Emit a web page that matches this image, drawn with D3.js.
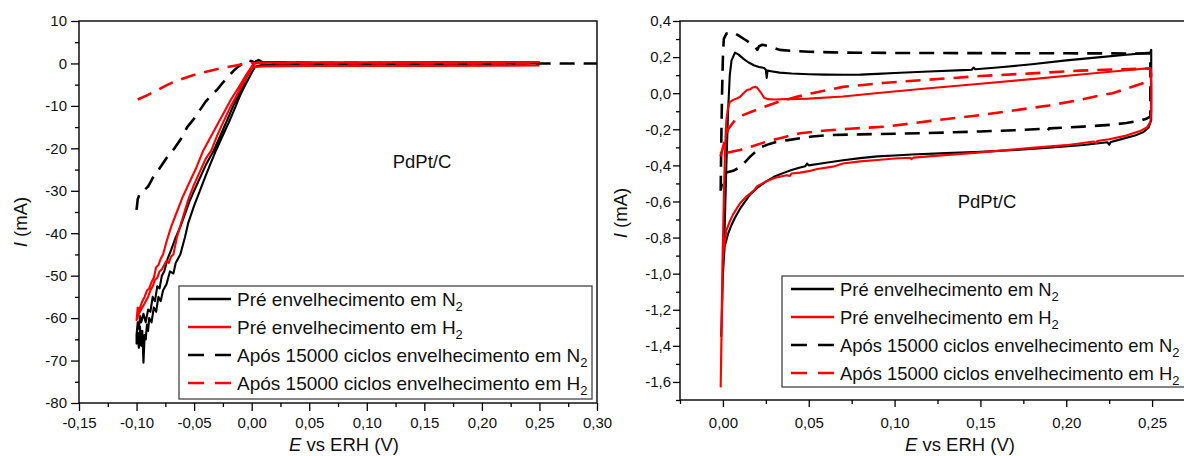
<!DOCTYPE html>
<html><head><meta charset="utf-8">
<script src="https://cdn.jsdelivr.net/npm/d3@7"></script>
<style>body{margin:0;background:#fff}svg{display:block;font-family:"Liberation Sans",Arial,sans-serif}</style>
</head><body><svg id="c" width="1184" height="456"></svg>
<script>
// ---------- labels ----------
const legendLabels = ["Pré envelhecimento em N","Pré envelhecimento em H","Após 15000 ciclos envelhecimento em N","Após 15000 ciclos envelhecimento em H"];
const legendSubs = ["2","2","2","2"];
const seriesColors = ["#000000","#ff0000","#000000","#ff0000"];
const seriesDashed = [false,false,true,true];
const sampleLabel = "PdPt/C";
const xTitle = "vs ERH (V)";
const yTitleUnit = " (mA)";

// ---------- left panel ticks ----------
const leftXTicks = [-0.15,-0.10,-0.05,0.00,0.05,0.10,0.15,0.20,0.25,0.30];
const leftYTicks = [-80,-70,-60,-50,-40,-30,-20,-10,0,10];
// ---------- right panel ticks ----------
const rightXTicks = [0.00,0.05,0.10,0.15,0.20,0.25];
const rightYTicks = [-1.6,-1.4,-1.2,-1.0,-0.8,-0.6,-0.4,-0.2,0.0,0.2,0.4];

// ---------- left panel data (E [V], I [mA]) ----------
const leftPreN2 = [
[0.25,0.0],[0.2,-0.1],[0.1,-0.2],[0.03,-0.3],[0.008,-0.4],[0.003,-0.8],
[0,-2.2],[-0.005,-4.8],[-0.01,-7.5],[-0.015,-10.8],[-0.02,-14],[-0.026,-17.5],[-0.031,-20.5],[-0.036,-23.8],[-0.04,-26.5],[-0.045,-30],[-0.05,-33.5],[-0.055,-37.5],[-0.058,-41],[-0.062,-45],[-0.066,-47],[-0.068,-49.5],[-0.071,-49],[-0.074,-52],[-0.077,-53.5],[-0.079,-56],[-0.081,-55],[-0.083,-58.5],[-0.085,-57.5],[-0.087,-61],[-0.089,-60],[-0.09,-63],[-0.091,-61.5],[-0.092,-65],[-0.093,-64],[-0.094,-70.5],[-0.095,-63],[-0.096,-66.5],[-0.097,-62],[-0.098,-67],[-0.099,-63.5],[-0.1,-66],
[-0.1,-64],[-0.099,-61],[-0.098,-62.5],[-0.097,-59.5],[-0.096,-61],[-0.094,-59],[-0.092,-61],[-0.09,-58],[-0.088,-58.5],[-0.086,-55],[-0.084,-56],[-0.082,-52.5],[-0.08,-53],[-0.078,-50],[-0.076,-49],[-0.073,-46],[-0.07,-44],[-0.066,-41],[-0.062,-38.5],[-0.058,-35.5],[-0.054,-32.5],[-0.05,-30],[-0.045,-27],[-0.04,-24],[-0.033,-20.5],[-0.028,-17.5],[-0.022,-13.8],[-0.016,-10],[-0.01,-6.5],[-0.005,-3.5],[0,-1],[0.004,0.6],[0.008,0.3],[0.05,0.2],[0.1,0.2],[0.15,0.25],[0.2,0.25],[0.25,0.3]
];
const leftPreH2 = [
[0.25,-0.5],[0.15,-0.6],[0.05,-0.6],[0.01,-0.7],[0.003,-0.8],[0,-1.2],[-0.005,-3.5],[-0.011,-6.5],[-0.018,-10],[-0.025,-14],[-0.03,-17],[-0.035,-20.5],[-0.04,-22.5],[-0.045,-25.5],[-0.05,-28.5],[-0.055,-32],[-0.06,-36.5],[-0.065,-41],[-0.068,-45],[-0.070,-45.5],[-0.072,-47],[-0.074,-46.5],[-0.076,-47.5],[-0.078,-48.5],[-0.08,-49],[-0.082,-50.5],[-0.084,-51],[-0.086,-52.5],[-0.088,-53.5],[-0.09,-55],[-0.092,-56],[-0.094,-57],[-0.096,-58],[-0.098,-59],[-0.1,-60.5],
[-0.099,-57.5],[-0.098,-58.5],[-0.097,-57.5],[-0.095,-56],[-0.093,-55],[-0.091,-53.5],[-0.089,-53],[-0.087,-51.5],[-0.085,-50.5],[-0.083,-48],[-0.081,-47.5],[-0.079,-46],[-0.077,-45],[-0.074,-42],[-0.07,-38.5],[-0.065,-35],[-0.06,-31.5],[-0.054,-28],[-0.048,-24.5],[-0.042,-20.5],[-0.036,-17.5],[-0.03,-14.5],[-0.025,-12],[-0.018,-8.5],[-0.011,-5.5],[-0.005,-2.8],[0.001,-0.3],[0.005,0.2],[0.05,0.2],[0.15,0.2],[0.25,0.3]
];
const leftPostN2 = [
[-0.1,-34.5],[-0.099,-32],[-0.097,-30.5],[-0.094,-30],[-0.09,-29],[-0.086,-27],[-0.082,-25.5],[-0.077,-23.5],[-0.072,-21.5],[-0.067,-20],[-0.062,-18],[-0.056,-15],[-0.05,-13],[-0.045,-11],[-0.04,-9],[-0.035,-7.5],[-0.03,-6.2],[-0.025,-4.5],[-0.02,-3],[-0.016,-1.8],[-0.012,-0.8],[-0.008,0],[-0.004,0.8],[0.0,0.5],[0.003,0.2],[0.006,0.8],[0.01,0.2],[0.05,0.1],[0.1,0.1],[0.2,0.0],[0.3,0.0]
];
const leftPostH2 = [
[-0.099,-8.5],[-0.09,-7.4],[-0.082,-6.3],[-0.075,-5.3],[-0.068,-4.4],[-0.06,-3.6],[-0.051,-2.8],[-0.042,-2.1],[-0.034,-1.6],[-0.025,-1.0],[-0.016,-0.6],[-0.008,-0.2],[0.0,0.1],[0.05,0.0],[0.1,0.0],[0.25,0.0]
];

// ---------- right panel data (E [V], I [mA]) ----------
const rightPreN2 = [
[-0.001,-1.35],[0.0,-1.0],[0.001,-0.75],[0.002,-0.4],[0.003,-0.1],[0.004,0.1],[0.005,0.18],[0.007,0.225],[0.009,0.215],[0.012,0.19],[0.015,0.17],[0.018,0.155],[0.021,0.145],[0.024,0.14],[0.025,0.13],[0.0255,0.085],[0.026,0.125],[0.028,0.122],[0.033,0.114],[0.04,0.109],[0.05,0.105],[0.06,0.103],[0.07,0.102],[0.08,0.103],[0.09,0.107],[0.1,0.112],[0.12,0.12],[0.14,0.128],[0.145,0.13],[0.146,0.142],[0.147,0.133],[0.16,0.142],[0.18,0.16],[0.2,0.182],[0.22,0.2],[0.235,0.213],[0.249,0.225],[0.2495,0.24],[0.2495,0.05],[0.2495,-0.15],[0.248,-0.19],[0.245,-0.215],[0.24,-0.235],[0.23,-0.26],[0.226,-0.27],[0.225,-0.285],[0.224,-0.272],[0.21,-0.287],[0.19,-0.302],[0.17,-0.315],[0.15,-0.325],[0.13,-0.332],[0.11,-0.34],[0.1,-0.345],[0.09,-0.35],[0.08,-0.36],[0.07,-0.372],[0.06,-0.385],[0.05,-0.4],[0.049,-0.39],[0.048,-0.405],[0.045,-0.412],[0.04,-0.425],[0.035,-0.443],[0.03,-0.462],[0.025,-0.49],[0.02,-0.525],[0.016,-0.56],[0.013,-0.6],[0.01,-0.64],[0.007,-0.69],[0.005,-0.73],[0.003,-0.78],[0.001,-0.85],[0.0,-1.0],[-0.001,-1.35]
];
const rightPreH2 = [
[-0.0013,-1.63],[-0.0008,-1.3],[-0.0003,-0.95],[0.0005,-0.6],[0.001,-0.4],[0.0015,-0.25],[0.002,-0.15],[0.003,-0.08],[0.004,-0.05],[0.006,-0.037],[0.008,-0.03],[0.01,-0.02],[0.012,0.0],[0.014,0.018],[0.016,0.022],[0.017,0.03],[0.019,0.035],[0.02,0.03],[0.022,0.005],[0.024,-0.025],[0.026,-0.033],[0.03,-0.035],[0.037,-0.033],[0.05,-0.03],[0.07,-0.018],[0.095,0.005],[0.12,0.027],[0.15,0.052],[0.18,0.078],[0.21,0.105],[0.235,0.127],[0.249,0.139],[0.2495,0.05],[0.2495,-0.1],[0.249,-0.16],[0.247,-0.19],[0.243,-0.21],[0.235,-0.235],[0.225,-0.255],[0.218,-0.265],[0.2175,-0.277],[0.216,-0.268],[0.2,-0.288],[0.18,-0.303],[0.15,-0.328],[0.12,-0.35],[0.111,-0.357],[0.11,-0.365],[0.109,-0.358],[0.1,-0.362],[0.09,-0.37],[0.08,-0.378],[0.07,-0.39],[0.064,-0.407],[0.055,-0.42],[0.05,-0.432],[0.045,-0.44],[0.04,-0.445],[0.039,-0.458],[0.037,-0.455],[0.03,-0.47],[0.025,-0.49],[0.02,-0.515],[0.018,-0.54],[0.014,-0.57],[0.01,-0.61],[0.006,-0.67],[0.004,-0.71],[0.002,-0.76],[0.0,-0.9],[-0.0013,-1.63]
];
const rightPostN2 = [
[-0.0013,-0.54],[-0.001,-0.3],[-0.0005,0.0],[0.0,0.2],[0.0005,0.3],[0.002,0.33],[0.006,0.337],[0.009,0.32],[0.013,0.296],[0.017,0.27],[0.019,0.255],[0.02,0.24],[0.021,0.26],[0.023,0.268],[0.026,0.262],[0.03,0.25],[0.033,0.24],[0.04,0.235],[0.05,0.23],[0.064,0.226],[0.08,0.224],[0.1,0.223],[0.15,0.222],[0.2,0.221],[0.24,0.22],[0.249,0.22],[0.249,0.0],[0.249,-0.13],[0.247,-0.14],[0.244,-0.15],[0.235,-0.165],[0.226,-0.175],[0.21,-0.185],[0.19,-0.195],[0.189,-0.21],[0.185,-0.198],[0.17,-0.205],[0.15,-0.212],[0.13,-0.218],[0.1,-0.225],[0.08,-0.228],[0.06,-0.233],[0.052,-0.24],[0.045,-0.25],[0.038,-0.26],[0.031,-0.27],[0.026,-0.285],[0.022,-0.3],[0.019,-0.325],[0.016,-0.35],[0.013,-0.38],[0.01,-0.41],[0.006,-0.43],[0.002,-0.44],[0.0,-0.47],[-0.0013,-0.54]
];
const rightPostH2 = [
[-0.0013,-0.35],[0.0,-0.3],[0.003,-0.2],[0.007,-0.15],[0.012,-0.12],[0.022,-0.083],[0.033,-0.046],[0.043,-0.02],[0.052,0.0],[0.07,0.035],[0.095,0.058],[0.12,0.075],[0.15,0.095],[0.18,0.11],[0.208,0.125],[0.23,0.132],[0.249,0.137],[0.2495,0.1],[0.249,0.075],[0.245,0.056],[0.235,0.025],[0.227,0.0],[0.22,-0.012],[0.208,-0.037],[0.19,-0.068],[0.17,-0.095],[0.15,-0.121],[0.12,-0.155],[0.095,-0.185],[0.074,-0.197],[0.06,-0.207],[0.045,-0.222],[0.035,-0.245],[0.025,-0.27],[0.015,-0.3],[0.01,-0.315],[0.005,-0.325],[0.0,-0.333],[-0.0013,-0.35]
];

// ---------- drawing ----------
const svg = d3.select("#c");
const loc = d3.formatLocale({decimal:",",thousands:".",grouping:[3],currency:["",""],minus:"-"});
const FONT_TICK = 15, FONT_TITLE = 18.5;

function mids(arr, lo, hi){
  const out=[];
  for(let i=0;i<arr.length-1;i++) out.push((arr[i]+arr[i+1])/2);
  const step = arr[1]-arr[0];
  if(lo!==undefined && arr[0]-step/2>=lo-1e-9) out.unshift(arr[0]-step/2);
  if(hi!==undefined && arr[arr.length-1]+step/2<=hi+1e-9) out.push(arr[arr.length-1]+step/2);
  return out;
}

function panel(cfg){
  const x = d3.scaleLinear().domain(cfg.xd).range(cfg.xr);
  const y = d3.scaleLinear().domain(cfg.yd).range(cfg.yr);
  const g = svg.append("g");
  const id = "clip"+cfg.name;
  svg.append("clipPath").attr("id",id).append("rect")
     .attr("x",cfg.xr[0]).attr("y",cfg.yr[1]).attr("width",cfg.xr[1]-cfg.xr[0]).attr("height",cfg.yr[0]-cfg.yr[1]);

  const line = d3.line().x(d=>x(d[0])).y(d=>y(d[1]));
  const order = [2,0,3,1];
  const pg = g.append("g").attr("clip-path",`url(#${id})`);
  order.forEach(i=>{
    pg.append("path").attr("d",line(cfg.series[i])).attr("fill","none")
      .attr("stroke",seriesColors[i]).attr("stroke-width",seriesDashed[i]?2.6:2.1)
      .attr("stroke-linejoin","round")
      .attr("stroke-dasharray",seriesDashed[i]?"15,9":null);
  });

  // axes
  g.append("g").attr("transform",`translate(0,${cfg.yr[0]})`)
     .call(d3.axisBottom(x).tickValues(cfg.xt).tickSize(cfg.tmaj).tickPadding(cfg.xpad).tickFormat(loc.format(".2f")));
  g.append("g").attr("transform",`translate(0,${cfg.yr[0]})`)
     .call(d3.axisBottom(x).tickValues(mids(cfg.xt,cfg.xd[0],cfg.xd[1])).tickSize(cfg.tmin).tickFormat(""));
  g.append("g").attr("transform",`translate(${cfg.xr[0]},0)`)
     .call(d3.axisLeft(y).tickValues(cfg.yt).tickSize(cfg.tmaj).tickPadding(cfg.ypad).tickFormat(loc.format(cfg.yfmt)));
  g.append("g").attr("transform",`translate(${cfg.xr[0]},0)`)
     .call(d3.axisLeft(y).tickValues(mids(cfg.yt,cfg.yd[0],cfg.yd[1])).tickSize(cfg.tmin).tickFormat(""));
  g.selectAll(".domain").remove();
  g.selectAll(".tick line").attr("stroke","#000").attr("stroke-width",1.3);
  g.selectAll(".tick text").attr("font-size",FONT_TICK).attr("fill","#111")
    .attr("font-family",'"Liberation Sans",Arial,sans-serif');

  // frame
  g.append("rect").attr("x",cfg.xr[0]).attr("y",cfg.yr[1]).attr("width",cfg.xr[1]-cfg.xr[0]).attr("height",cfg.yr[0]-cfg.yr[1])
    .attr("fill","none").attr("stroke","#000").attr("stroke-width",1.4);

  // legend
  const lg = g.append("g");
  lg.append("rect").attr("x",cfg.leg.x).attr("y",cfg.leg.y).attr("width",cfg.leg.w).attr("height",cfg.leg.h)
    .attr("fill","#fff").attr("stroke","#444").attr("stroke-width",1.3);
  legendLabels.forEach((t,i)=>{
    const ly = cfg.leg.rows[i];
    lg.append("line").attr("x1",cfg.leg.x+9).attr("x2",cfg.leg.x+52).attr("y1",ly).attr("y2",ly)
      .attr("stroke",seriesColors[i]).attr("stroke-width",2.6)
      .attr("stroke-dasharray",seriesDashed[i]?"16,11":null);
    const tx = lg.append("text").attr("x",cfg.leg.x+58).attr("y",ly+6.5).attr("font-size",cfg.leg.font).attr("fill","#111");
    tx.append("tspan").text(t);
    tx.append("tspan").attr("font-size",13).attr("dy",5).text(legendSubs[i]);
  });

  // titles
  const xt = g.append("text").attr("x",cfg.xtitle[0]).attr("y",cfg.xtitle[1]).attr("text-anchor","middle")
     .attr("font-size",FONT_TITLE).attr("fill","#111");
  xt.append("tspan").attr("font-style","italic").text("E");
  xt.append("tspan").text(" "+xTitle);
  const yt = g.append("text").attr("transform",`translate(${cfg.ytitle[0]},${cfg.ytitle[1]}) rotate(-90)`)
     .attr("text-anchor","middle").attr("font-size",FONT_TITLE).attr("fill","#111");
  yt.append("tspan").attr("font-style","italic").text("I");
  yt.append("tspan").text(yTitleUnit);
  g.append("text").attr("x",cfg.label[0]).attr("y",cfg.label[1]).attr("text-anchor","middle")
    .attr("font-size",FONT_TITLE).attr("fill","#111").text(sampleLabel);
}

panel({name:"L", xd:[-0.15,0.30], xr:[79,597], yd:[-80,10], yr:[403,21],
  xt:leftXTicks, yt:leftYTicks, yfmt:"d", tmaj:8, tmin:4, xpad:6, ypad:4,
  series:[leftPreN2,leftPreH2,leftPostN2,leftPostH2],
  leg:{x:179,y:286,w:413,h:113,rows:[299,327,355,383],font:19},
  xtitle:[344,451], ytitle:[27,222], label:[422,168]});

panel({name:"R", xd:[-0.025,0.275], xr:[680,1195], yd:[-1.7,0.4], yr:[400,21],
  xt:rightXTicks, yt:rightYTicks, yfmt:".1f", tmaj:7, tmin:4, xpad:10, ypad:2,
  series:[rightPreN2,rightPreH2,rightPostN2,rightPostH2],
  leg:{x:782,y:276,w:413,h:111,rows:[289,317,345,373],font:18.4},
  xtitle:[960,451], ytitle:[627,213], label:[987,208]});
</script></body></html>
